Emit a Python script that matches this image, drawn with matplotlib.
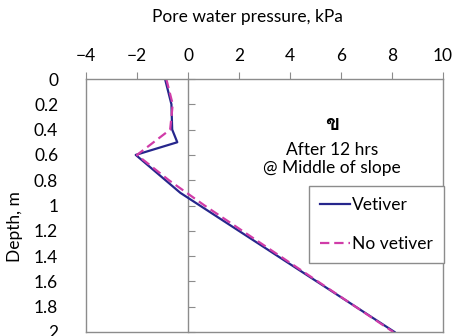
import matplotlib.pyplot as plt

# pore water pressure (kPa) against depth (m)
depth_vetiver = [0.0, 0.2, 0.4, 0.5, 0.6, 0.9, 2.0]
pwp_vetiver = [-0.9, -0.65, -0.62, -0.42, -2.05, -0.3, 8.1]

depth_novetiver = [0.0, 0.2, 0.4, 0.6, 0.8, 1.0, 2.0]
pwp_novetiver = [-0.85, -0.6, -0.7, -2.0, -0.75, 0.65, 8.05]

xticks = [-4, -2, 0, 2, 4, 6, 8, 10]
yticks = [0, 0.2, 0.4, 0.6, 0.8, 1, 1.2, 1.4, 1.6, 1.8, 2]
ytick_labels = ['0', '0.2', '0.4', '0.6', '0.8', '1', '1.2', '1.4', '1.6', '1.8', '2']

plt.rcParams['font.family'] = ['Lato', 'DejaVu Sans']
grey = '#8c8c8c'

fig = plt.figure(figsize=(4.53, 3.36), dpi=100)
ax = fig.add_axes([86 / 453, 1 - 332 / 336, 357 / 453, 253 / 336])

ax.plot(pwp_vetiver, depth_vetiver, color='#26268c', lw=1.6, label='Vetiver')
ax.plot(pwp_novetiver, depth_novetiver, color='#d03ca8', lw=1.6,
        dashes=(4.2, 2.2), label='No vetiver')

ax.set_xlim(-4, 10)
ax.set_ylim(2, 0)
ax.set_xticks(xticks)
ax.set_yticks(yticks)
ax.set_yticklabels(ytick_labels)

ax.xaxis.tick_top()
ax.tick_params(axis='x', direction='out', length=5, color=grey,
               labelsize=12.5, pad=6)
ax.tick_params(axis='y', length=0, labelsize=12.5, pad=20)
for s in ax.spines.values():
    s.set_color(grey)
    s.set_linewidth(1)

# vertical axis crossing at zero pressure
sec = ax.secondary_yaxis(4 / 14)
sec.set_yticks(yticks)
sec.tick_params(axis='y', direction='in', length=5, color=grey,
                labelleft=False, labelright=False)
sec.spines['left'].set_color(grey)
sec.spines['left'].set_linewidth(1)

ax.set_xlabel('Pore water pressure, kPa', fontsize=12.5)
ax.xaxis.set_label_position('top')
ax.xaxis.set_label_coords((247 - 86) / 357, 1 + 57 / 253)
ax.set_ylabel('Depth, m', fontsize=12.5)
ax.yaxis.set_label_coords(-(86 - 23) / 357, 1 - (227 - 79) / 253)

ax.text(332, 336 - 124, 'ข', transform=None, fontsize=15, fontweight='bold',
        ha='center', va='center', family=['Loma', 'DejaVu Sans'])
ax.text(332, 336 - 159, 'After 12 hrs\n@ Middle of slope', transform=None,
        fontsize=12.5, ha='center', va='center', linespacing=1.2)

leg = ax.legend(loc='upper left', bbox_to_anchor=((309 - 86) / 357, 1 - (186 - 79) / 253),
                borderaxespad=0, fontsize=12.5, handlelength=1.7, handletextpad=0.1,
                labelspacing=1.3, borderpad=0.65, fancybox=False,
                framealpha=1, edgecolor=grey)
leg.get_frame().set_linewidth(1)

fig.savefig('out.png', dpi=100)
